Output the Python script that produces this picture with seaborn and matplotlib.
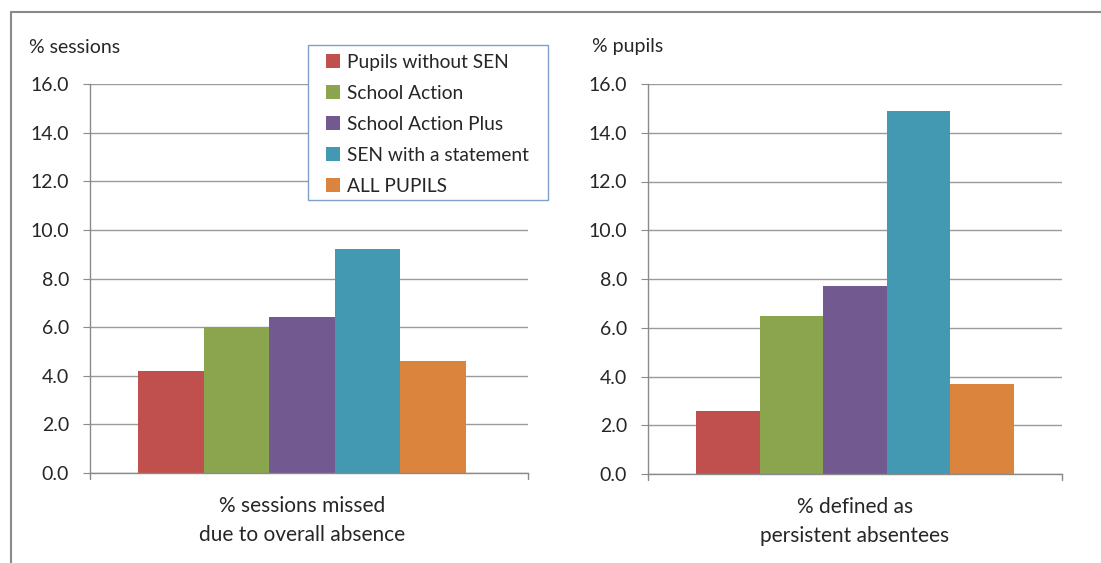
import pandas as pd
import seaborn as sns
import matplotlib.pyplot as plt
from matplotlib.lines import Line2D
from matplotlib.patches import Patch, Rectangle

# dados
grupos = ['Pupils without SEN', 'School Action', 'School Action Plus',
          'SEN with a statement', 'ALL PUPILS']
cores = ['#C0504D', '#8AA54E', '#72598F', '#4399B1', '#DB843D']
sessoes = [4.2, 6.0, 6.4, 9.2, 4.6]
persistentes = [2.6, 6.5, 7.7, 14.9, 3.7]
rotulo_esq = '% sessions missed\ndue to overall absence'
rotulo_dir = '% defined as\npersistent absentees'
ticks_y = [0, 2, 4, 6, 8, 10, 12, 14, 16]

sns.set_style('white')
plt.rcParams['font.family'] = ['Lato', 'DejaVu Sans']

fig = plt.figure(figsize=(11.01, 5.63), dpi=100)
ax1 = fig.add_axes([90 / 1101, 1 - 473 / 563, 438 / 1101, 389 / 563])
ax2 = fig.add_axes([648 / 1101, 1 - 474 / 563, 414 / 1101, 390 / 563])

paleta = dict(zip(grupos, cores))


def painel(ax, valores, rotulo, titulo, xlim):
    df = pd.DataFrame({'cat': [rotulo] * len(grupos), 'grupo': grupos, 'valor': valores})
    sns.barplot(data=df, x='cat', y='valor', hue='grupo', hue_order=grupos,
                palette=paleta, width=0.75, saturation=1, legend=False,
                linewidth=0, edgecolor='none', ax=ax)
    ax.set_ylim(0, 16)
    ax.set_xlim(*xlim)
    ax.set_yticks(ticks_y)
    ax.set_yticklabels([f'{v:.1f}' for v in ticks_y], fontsize=14)
    ax.grid(axis='y', color='#9a9a9a', linewidth=1)
    ax.set_axisbelow(True)
    for s in ['top', 'right']:
        ax.spines[s].set_visible(False)
    for s in ['left', 'bottom']:
        ax.spines[s].set_color('#8a8a8a')
        ax.spines[s].set_linewidth(1)
    ax.tick_params(axis='y', left=True, length=5, color='#8a8a8a', pad=10)
    ax.tick_params(axis='x', bottom=False, labelsize=15, pad=13)
    ax.set_xlabel('')
    ax.set_ylabel('')
    ax.set_xticks([0])
    ax.set_xticklabels([rotulo], linespacing=1.55)
    # pequenos ticks nas pontas do eixo x
    for xx in xlim:
        ax.plot([xx, xx], [0, -0.25], color='#8a8a8a', lw=1, clip_on=False)
    ax.set_ylim(0, 16)
    ax.text(-0.14 if titulo == '% sessions' else -0.135, 1.095, titulo,
            transform=ax.transAxes, fontsize=14, va='center', ha='left')


painel(ax1, sessoes, rotulo_esq, '% sessions', (-0.485, 0.517))
painel(ax2, persistentes, rotulo_dir, '% pupils', (-0.488, 0.488))

# moldura externa
fig.add_artist(Line2D([11 / 1101, 11 / 1101], [0, 1 - 12 / 563], color='#8a8a8a', lw=1.5))
fig.add_artist(Line2D([11 / 1101, 1], [1 - 12 / 563, 1 - 12 / 563], color='#8a8a8a', lw=1.5))

# legenda (caixa desenhada a parte)
fig.add_artist(Rectangle((308 / 1101, 1 - 200 / 563), 240 / 1101, 155 / 563,
                         transform=fig.transFigure, facecolor='white',
                         edgecolor='#7f9fc8', linewidth=1, zorder=5))
handles = [Patch(facecolor=c, edgecolor='none') for c in cores]
leg = fig.legend(handles, grupos, loc='upper left',
                 bbox_to_anchor=(326 / 1101, 1 - 54 / 563), bbox_transform=fig.transFigure,
                 borderaxespad=0, borderpad=0, fontsize=13.8, frameon=False,
                 handlelength=0.75, handleheight=0.75, handletextpad=0.35,
                 labelspacing=0.73)
leg.set_zorder(6)

fig.savefig('out.png', dpi=100)
